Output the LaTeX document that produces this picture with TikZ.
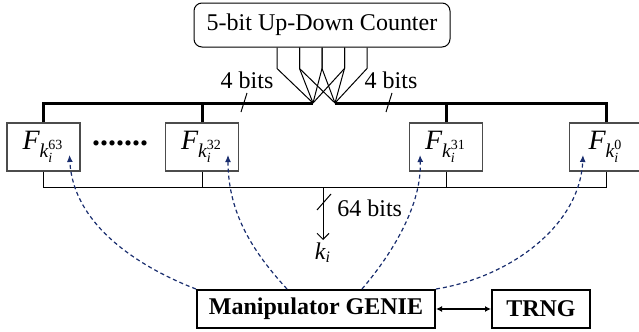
\documentclass[tikz,border=0pt]{standalone}
\usepackage{fontspec}
\setmainfont{Liberation Serif}
\usepackage{amsmath}
\usetikzlibrary{arrows.meta}
\definecolor{genieblue}{RGB}{25,45,110}
\begin{document}
\begin{tikzpicture}[x=0.5pt, y=-0.5pt, font=\fontsize{12}{14}\selectfont,
  fbox/.style={draw=black!70, line width=0.6pt, minimum width=36.5pt, minimum height=24pt, inner sep=0pt, font=\fontsize{14}{16}\selectfont},
  bus/.style={line width=1.5pt},
  wire/.style={line width=0.5pt},
  ctrl/.style={genieblue, line width=0.6pt, dash pattern=on 2pt off 1.5pt, -{Latex[length=3.5pt,width=3pt]}}]
\useasboundingbox (0,0) rectangle (639,332);
\node[draw, rounded corners=4pt, line width=0.5pt, minimum width=128pt, minimum height=22pt] (ctr) at (322,25) {5-bit Up-Down Counter};
\node[fbox] (f63) at (43.5,147) {$\textit{F}_{\textit{k}_{\textit{i}}^{\text{63}}}$};
\node[fbox] (f32) at (202,147) {$\textit{F}_{\textit{k}_{\textit{i}}^{\text{32}}}$};
\node[fbox] (f31) at (446,147) {$\textit{F}_{\textit{k}_{\textit{i}}^{\text{31}}}$};
\node[fbox] (f0) at (606,147) {$\textit{F}_{\textit{k}_{\textit{i}}^{\text{0}}}$};
\node[font=\fontsize{16}{16}\selectfont\bfseries] (dots) at (120,143) {.......};
\node[draw, line width=1pt, minimum width=119pt, minimum height=19pt, font=\fontsize{12}{14}\selectfont\bfseries] (gen) at (316,309) {Manipulator GENIE};
\node[draw, line width=1pt, minimum width=49pt, minimum height=19pt, font=\fontsize{12}{14}\selectfont\bfseries] (trng) at (541,309) {TRNG};
\node (lbits) at (247,80) {4 bits};
\node (rbits) at (391,80) {4 bits};
\node[anchor=west, inner sep=0pt] (obits) at (337,208) {64 bits};
\node[anchor=north, inner sep=1pt] (ki) at (323,240) {$\textit{k}_{\textit{i}}$};
\coordinate (jl) at (313,103);
\coordinate (jr) at (335,103);
\coordinate (bot) at (323,187);
\coordinate (t63) at ([xshift=13pt,yshift=-4pt]f63.center);
\coordinate (t32) at ([xshift=13pt,yshift=-4pt]f32.center);
\coordinate (t31) at ([xshift=-13pt,yshift=-4pt]f31.center);
\coordinate (t0) at ([xshift=-11.5pt,yshift=-4pt]f0.center);
\foreach \dx in {-45,-22.5,0,22.5} \draw[wire] (ctr.south) ++(\dx,0) -- ++(0,21) -- (jl);
\foreach \dx in {-22.5,0,22.5,45} \draw[wire] (ctr.south) ++(\dx,0) -- ++(0,21) -- (jr);
\draw[bus] (f63.north) |- (jl);
\draw[bus] (f32.north) -- (f32.north |- jl);
\draw[bus] (f0.north) |- (jr);
\draw[bus] (f31.north) -- (f31.north |- jr);
\draw[wire] (244,103) ++(-3,9) -- ++(6,-19);
\draw[wire] (389,103) ++(-3,9) -- ++(6,-19);
\draw[wire] (f63.south) -- ++(0,16) -| (f0.south);
\draw[wire] (f32.south) -- ++(0,16);
\draw[wire] (f31.south) -- ++(0,16);
\draw[wire, -{Straight Barb[length=3pt,width=6pt]}] (bot) -- (ki);
\draw[wire] (317,210) -- (331,194);
\draw[line width=0.8pt, {Latex[length=3pt,width=3pt]}-{Latex[length=3pt,width=3pt]}] (gen) -- (trng);
\draw[ctrl] (gen.north west) .. controls +(-47,-18) and +(4,75) .. (t63);
\draw[ctrl] ([xshift=-14.5pt]gen.north) .. controls +(-32,-35) and +(0,60) .. (t32);
\draw[ctrl] ([xshift=23pt]gen.north) .. controls +(30,-35) and +(2,50) .. (t31);
\draw[ctrl] (gen.north east) .. controls +(75,-12) and +(-3,70) .. (t0);
\end{tikzpicture}
\end{document}
